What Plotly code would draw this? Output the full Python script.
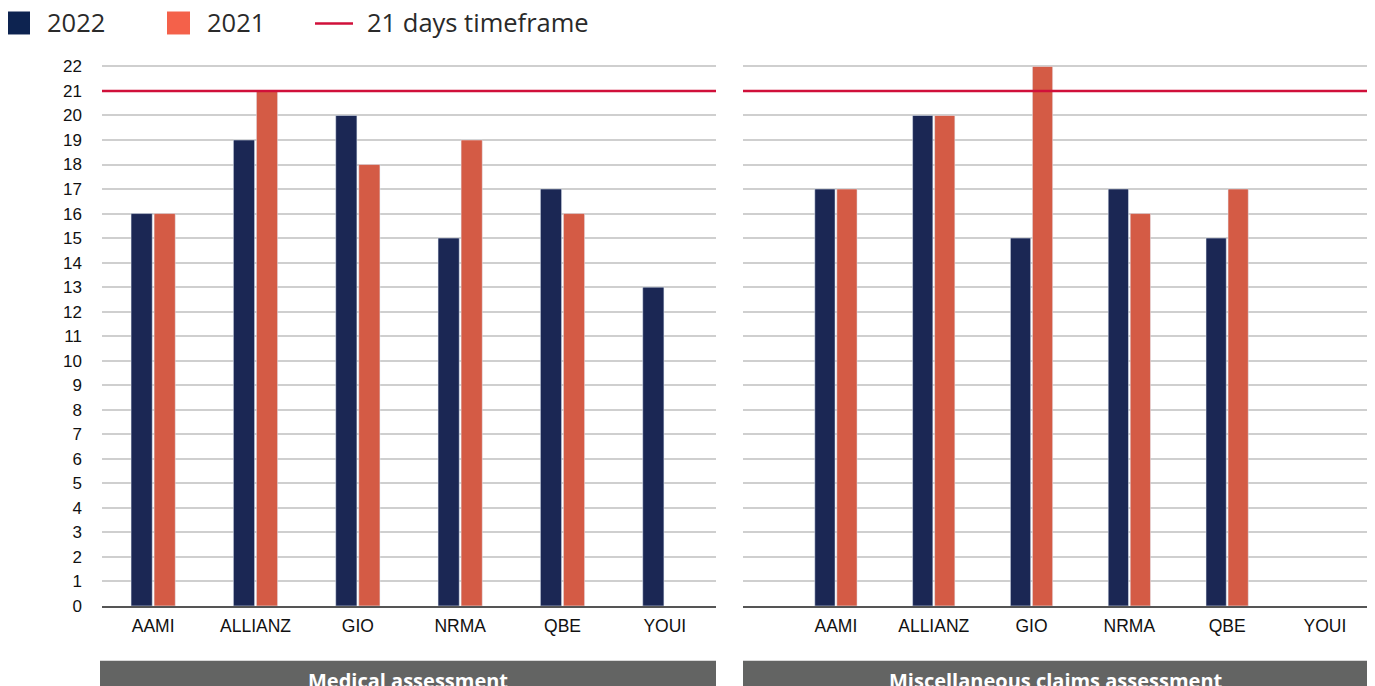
import plotly.graph_objects as go

categories = ["AAMI", "ALLIANZ", "GIO", "NRMA", "QBE", "YOUI"]
medical_2022 = [16, 19, 20, 15, 17, 13]
medical_2021 = [16, 21, 18, 19, 16, None]
misc_2022 = [17, 20, 15, 17, 15, None]
misc_2021 = [17, 20, 22, 16, 17, None]
timeframe_days = 21
y_ticks = list(range(0, 23))
panel_titles = ["Medical assessment", "Miscellaneous claims assessment"]
legend_labels = ["2022", "2021", "21 days timeframe"]

W, H = 1375, 686
OFFX = 8
OFFY, SY = 10.5, 0.982
C22 = "#1b2754"
C21 = "#d45b45"
RED = "#d0103a"

def px_x(p):
    return (p - OFFX) / W

def px_y(p):
    return 1 - ((p - OFFY) / SY) / H

fig = go.Figure()
for vals, col, name, ax in [
    (medical_2022, C22, "2022", "x"), (medical_2021, C21, "2021", "x"),
    (misc_2022, C22, "2022", "x2"), (misc_2021, C21, "2021", "x2"),
]:
    fig.add_trace(go.Bar(x=categories, y=vals, marker_color=col, name=name,
                         xaxis=ax, yaxis="y" if ax == "x" else "y2",
                         showlegend=False, hoverinfo="x+y"))

unit = 540 / 22
ydom = [px_y(606), px_y(606 - 22.25 * unit)]
common_y = dict(range=[0, 22.25], tickvals=y_ticks, showgrid=True,
                gridcolor="#cfcfcf", gridwidth=1.5, zeroline=False,
                domain=ydom, fixedrange=True)
common_x = dict(type="category", showline=True, linecolor="#555555", linewidth=1.5,
                ticks="", tickfont=dict(family="Liberation Sans", size=17.5, color="#111"),
                ticklabelstandoff=3, showgrid=False)

fig.update_layout(
    width=W, height=H, margin=dict(l=0, r=0, t=0, b=0),
    paper_bgcolor="white", plot_bgcolor="white",
    barmode="group", bargap=0.55, bargroupgap=0.08,
    showlegend=False,
    xaxis=dict(domain=[px_x(102), px_x(716)], range=[-0.5, 5.5], anchor="y", **common_x),
    xaxis2=dict(domain=[px_x(743), px_x(1368)], range=[-0.95, 5.44], anchor="y2", **common_x),
    yaxis=dict(anchor="x", showticklabels=True, ticks="",
               tickfont=dict(family="Liberation Sans", size=17, color="#111"),
               ticklabelstandoff=19, **common_y),
    yaxis2=dict(anchor="x2", showticklabels=False, **common_y),
)

shapes = []
annotations = []
# timeframe lines
for xr, yr in [("x domain", "y"), ("x2 domain", "y2")]:
    shapes.append(dict(type="line", xref=xr, yref=yr, x0=0, x1=1,
                       y0=timeframe_days, y1=timeframe_days,
                       line=dict(color=RED, width=2.5), layer="above"))
# panel title boxes
for (x0, x1), title in zip([(100, 716), (743, 1368)], panel_titles):
    shapes.append(dict(type="rect", xref="paper", yref="paper",
                       x0=px_x(x0), x1=px_x(x1), y0=px_y(720), y1=px_y(661),
                       fillcolor="#636463", line=dict(width=0)))
    annotations.append(dict(xref="paper", yref="paper", x=px_x((x0 + x1) / 2),
                            y=px_y(681), text="<b>" + title + "</b>", showarrow=False,
                            xanchor="center", yanchor="middle",
                            font=dict(family="Open Sans", size=20, color="white")))
# legend
lf = dict(family="Open Sans", size=25.5, color="#2a2a2a")
shapes.append(dict(type="rect", xref="paper", yref="paper", x0=px_x(7), x1=px_x(30),
                   y0=px_y(11), y1=px_y(34), fillcolor="#0d2350", line=dict(width=0)))
shapes.append(dict(type="rect", xref="paper", yref="paper", x0=px_x(167), x1=px_x(190),
                   y0=px_y(11), y1=px_y(34), fillcolor="#f4614a", line=dict(width=0)))
shapes.append(dict(type="line", xref="paper", yref="paper", x0=px_x(315), x1=px_x(353),
                   y0=px_y(23), y1=px_y(23), line=dict(color=RED, width=2.5)))
for xpos, lab in zip([45, 205, 365], legend_labels):
    annotations.append(dict(xref="paper", yref="paper", x=px_x(xpos), y=px_y(22),
                            text=lab, showarrow=False, xanchor="left", yanchor="middle",
                            font=lf))
fig.update_layout(shapes=shapes, annotations=annotations)

fig.write_html("out.html")
